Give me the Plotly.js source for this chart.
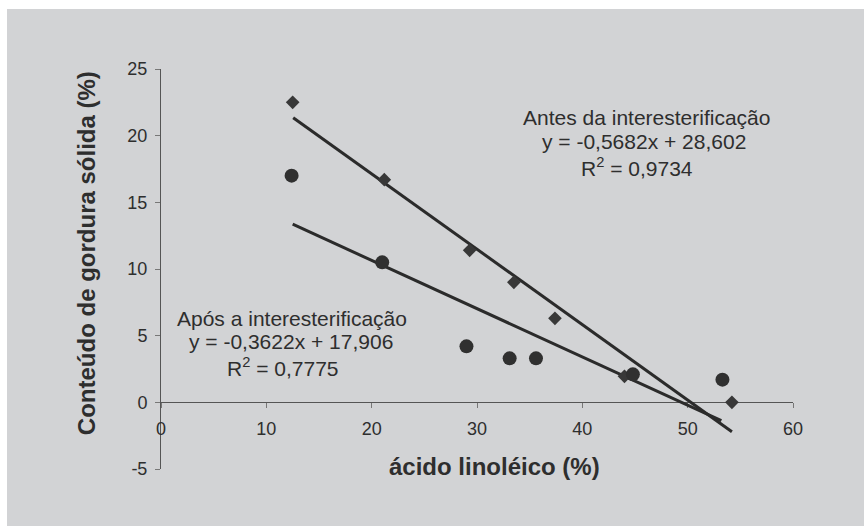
<!DOCTYPE html>
<html>
<head>
<meta charset="utf-8">
<script src="https://cdn.plot.ly/plotly-3.0.1.min.js"></script>
<style>
  html, body { margin: 0; padding: 0; background: #ffffff; width: 864px; height: 526px; overflow: hidden; }
  #chart { position: absolute; left: 7px; top: 9px; width: 857px; height: 517px; }
</style>
</head>
<body>
<div id="chart"></div>
<script>
// Antes da interesterificação (diamonds)
const antesX = [12.5, 21.2, 29.3, 33.5, 37.4, 44.0, 54.2];
const antesY = [22.5, 16.7, 11.4, 9.0, 6.3, 1.95, 0.0];
// Após a interesterificação (circles)
const aposX = [12.4, 21.0, 29.0, 33.1, 35.6, 44.8, 53.3];
const aposY = [17.0, 10.5, 4.2, 3.3, 3.3, 2.1, 1.7];
// Linear trend lines (end points as drawn)
const antesFitX = [12.55, 54.2];
const antesFitY = [21.35, -2.2];
const aposFitX = [12.5, 53.2];
const aposFitY = [13.36, -1.37];

const xTicks = [0, 10, 20, 30, 40, 50, 60];
const yTicks = [-5, 0, 5, 10, 15, 20, 25];

const xTitle = 'ácido linoléico (%)';
const yTitle = 'Conteúdo de gordura sólida (%)';
const antesLabel = ['Antes da interesterificação', 'y = -0,5682x + 28,602', 'R<sup>2</sup> = 0,9734'];
const aposLabel = ['Após a interesterificação', 'y = -0,3622x + 17,906', 'R<sup>2</sup> = 0,7775'];

const dark = '#2e2e2e';
const font = 'Liberation Sans, Arial, sans-serif';

const traces = [
  { x: antesFitX, y: antesFitY, mode: 'lines', line: { color: '#2b2b2b', width: 3 }, hoverinfo: 'skip' },
  { x: aposFitX, y: aposFitY, mode: 'lines', line: { color: '#2b2b2b', width: 3 }, hoverinfo: 'skip' },
  { x: antesX, y: antesY, mode: 'markers', marker: { symbol: 'diamond', size: 10.5, color: '#383838' } },
  { x: aposX, y: aposY, mode: 'markers', marker: { symbol: 'circle', size: 14, color: '#303030' } }
];

function lineAnn(text, x, y) {
  return { text: text, x: x, y: y, xref: 'x', yref: 'y', xanchor: 'center', yanchor: 'middle',
           showarrow: false, font: { family: font, size: 21, color: dark } };
}

const annotations = [
  lineAnn(antesLabel[0], 46.09, 21.35),
  lineAnn(antesLabel[1], 45.86, 19.6),
  lineAnn(antesLabel[2], 45.15, 17.65),
  lineAnn(aposLabel[0], 12.45, 6.3),
  lineAnn(aposLabel[1], 12.34, 4.6),
  lineAnn(aposLabel[2], 11.58, 2.65),
  { text: '<b>' + xTitle + '</b>', xref: 'paper', yref: 'paper', x: 0.5277, y: 0.0075,
    xanchor: 'center', yanchor: 'middle', showarrow: false,
    font: { family: font, size: 24, color: dark } },
  { text: '<b>' + yTitle + '</b>', xref: 'paper', yref: 'paper', x: -0.1175, y: 0.539,
    xanchor: 'center', yanchor: 'middle', textangle: -90, showarrow: false,
    font: { family: font, size: 24, color: dark } }
];

const layout = {
  width: 857, height: 517,
  margin: { l: 154, r: 71, t: 60, b: 57, pad: 0 },
  paper_bgcolor: '#d2d3d5',
  plot_bgcolor: '#d2d3d5',
  showlegend: false,
  font: { family: font, color: dark },
  xaxis: {
    range: [0, 60], tickvals: xTicks, ticktext: xTicks.map(String),
    anchor: 'free', position: 5 / 30,
    showline: true, linecolor: '#555555', linewidth: 1,
    ticks: 'outside', ticklen: 5, tickcolor: '#777777', tickwidth: 1,
    ticklabelstandoff: 5,
    showgrid: false, zeroline: false, layer: 'below traces',
    tickfont: { family: font, size: 18, color: dark }
  },
  yaxis: {
    range: [-5, 25], tickvals: yTicks, ticktext: yTicks.map(String),
    showline: true, linecolor: '#555555', linewidth: 1,
    ticks: 'outside', ticklen: 5, tickcolor: '#777777', tickwidth: 1,
    ticklabelstandoff: 4,
    showgrid: false, zeroline: false, layer: 'below traces',
    tickfont: { family: font, size: 18, color: dark }
  },
  annotations: annotations
};

Plotly.newPlot('chart', traces, layout, { displayModeBar: false, staticPlot: true });
</script>
</body>
</html>
